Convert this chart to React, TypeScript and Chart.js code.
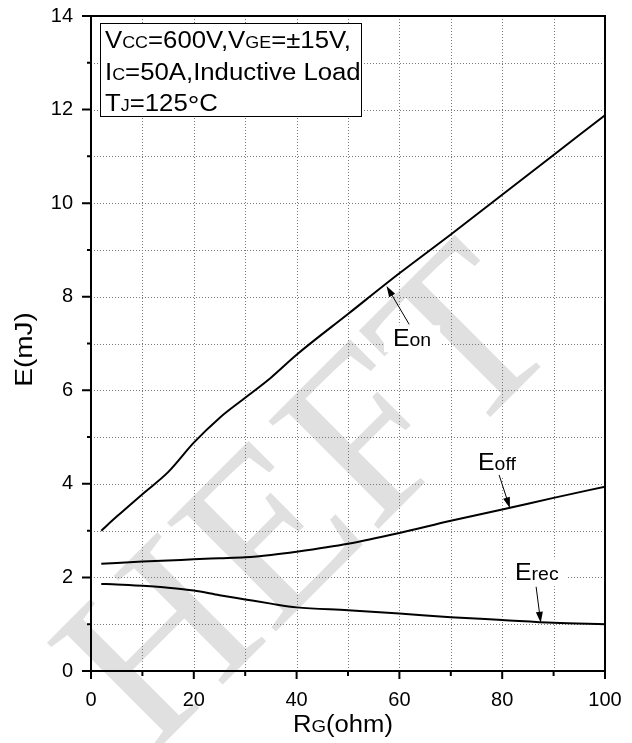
import React, { useEffect, useRef } from 'react';
import { Chart, registerables } from 'chart.js';

Chart.register(...registerables);

// Gate resistance RG (ohm)
const rg = [2, 5, 10, 15, 20, 25, 30, 35, 40, 50, 60, 70, 80, 90, 100];
// Switching energies (mJ)
const eon = [3.0, 3.3, 3.78, 4.25, 4.88, 5.41, 5.84, 6.27, 6.76, 7.63, 8.5, 9.33, 10.18, 11.03, 11.88];
const eoff = [2.29, 2.31, 2.34, 2.36, 2.39, 2.41, 2.43, 2.48, 2.55, 2.72, 2.95, 3.21, 3.45, 3.7, 3.94];
const erec = [1.86, 1.85, 1.82, 1.78, 1.72, 1.62, 1.53, 1.44, 1.36, 1.3, 1.23, 1.15, 1.09, 1.03, 1.0];

const xTickLabels = [0, 20, 40, 60, 80, 100];
const yTickLabels = [0, 2, 4, 6, 8, 10, 12, 14];

const SANS = '"Liberation Sans", Arial, Helvetica, sans-serif';
const SERIF = '"Liberation Serif", "DejaVu Serif", serif';

// [text, font size, baseline shift]
type Run = [string, number, number?];

const conditionLines: Run[][] = [
  [['V', 23], ['CC', 16], ['=600V,V', 23], ['GE', 16], ['=\u00b115V,', 23]],
  [['I', 23], ['C', 16], ['=50A,Inductive Load', 23]],
  [['T', 23], ['J', 16], ['=125', 23], ['\u00b0', 26, 3], ['C', 23]],
];

// Curve call-outs: label anchor, arrow tail and arrow tip in data units
const curveNotes: { runs: Run[]; at: [number, number]; tail: [number, number]; tip: [number, number] }[] = [
  { runs: [['E', 23], ['on', 18]], at: [58.75, 6.94], tail: [61.9, 7.41], tip: [57.5, 8.23] },
  { runs: [['E', 23], ['off', 18]], at: [75.3, 4.29], tail: [79.4, 4.19], tip: [81.5, 3.48] },
  { runs: [['E', 23], ['rec', 18]], at: [82.5, 1.94], tail: [86.6, 1.8], tip: [87.5, 1.03] },
];

function runsWidth(ctx: CanvasRenderingContext2D, runs: Run[]) {
  let w = 0;
  for (const [t, px] of runs) {
    ctx.font = `${px}px ${SANS}`;
    w += ctx.measureText(t).width;
  }
  return w;
}

function drawRuns(ctx: CanvasRenderingContext2D, runs: Run[], x: number, y: number, sx: number) {
  ctx.save();
  ctx.translate(x, y);
  ctx.scale(sx, 1);
  ctx.textAlign = 'left';
  ctx.textBaseline = 'alphabetic';
  ctx.fillStyle = '#000';
  let cx = 0;
  for (const [t, px, dy] of runs) {
    ctx.font = `${px}px ${SANS}`;
    ctx.fillText(t, cx, dy || 0);
    cx += ctx.measureText(t).width;
  }
  ctx.restore();
}

function arrow(ctx: CanvasRenderingContext2D, x0: number, y0: number, x1: number, y1: number) {
  const ang = Math.atan2(y1 - y0, x1 - x0);
  const len = 11;
  const hw = 3.5;
  ctx.save();
  ctx.strokeStyle = '#000';
  ctx.fillStyle = '#000';
  ctx.lineWidth = 1;
  ctx.beginPath();
  ctx.moveTo(x0, y0);
  ctx.lineTo(x1 - Math.cos(ang) * len * 0.8, y1 - Math.sin(ang) * len * 0.8);
  ctx.stroke();
  ctx.beginPath();
  ctx.moveTo(x1, y1);
  ctx.lineTo(x1 - Math.cos(ang) * len - Math.sin(ang) * hw, y1 - Math.sin(ang) * len + Math.cos(ang) * hw);
  ctx.lineTo(x1 - Math.cos(ang) * len + Math.sin(ang) * hw, y1 - Math.sin(ang) * len - Math.cos(ang) * hw);
  ctx.closePath();
  ctx.fill();
  ctx.restore();
}

const decor = {
  id: 'decor',
  beforeDraw(chart: any) {
    const { ctx, width, height } = chart;
    ctx.save();
    ctx.fillStyle = '#fff';
    ctx.fillRect(0, 0, width, height);
    // faint watermark
    ctx.translate(315, 505);
    ctx.rotate(-Math.PI / 4);
    ctx.font = `235px ${SERIF}`;
    ctx.fillStyle = '#e0e0e0';
    ctx.textAlign = 'center';
    ctx.textBaseline = 'middle';
    ctx.fillText('HEFT', 0, 0);
    ctx.restore();
  },
  beforeDatasetsDraw(chart: any) {
    const { ctx, chartArea: a, scales } = chart;
    const x = scales.x;
    const y = scales.y;
    ctx.save();
    ctx.strokeStyle = '#7a7a7a';
    ctx.lineWidth = 1;
    ctx.setLineDash([1, 2]);
    for (const t of x.ticks) {
      if (t.value <= x.min || t.value >= x.max) continue;
      const px = Math.round(x.getPixelForValue(t.value)) + 0.5;
      ctx.beginPath();
      ctx.moveTo(px, a.top);
      ctx.lineTo(px, a.bottom);
      ctx.stroke();
    }
    for (const t of y.ticks) {
      if (t.value <= y.min || t.value >= y.max) continue;
      const py = Math.round(y.getPixelForValue(t.value)) + 0.5;
      ctx.beginPath();
      ctx.moveTo(a.left, py);
      ctx.lineTo(a.right, py);
      ctx.stroke();
    }
    ctx.restore();
  },
  afterDatasetsDraw(chart: any) {
    const { ctx, chartArea: a, scales } = chart;
    const x = scales.x;
    const y = scales.y;
    ctx.save();
    // frame
    ctx.strokeStyle = '#000';
    ctx.lineWidth = 2;
    ctx.strokeRect(a.left, a.top, a.right - a.left, a.bottom - a.top);
    // outward tick marks
    ctx.beginPath();
    for (const t of x.ticks) {
      const px = x.getPixelForValue(t.value);
      const len = xTickLabels.includes(t.value) ? 8 : 5;
      ctx.moveTo(px, a.bottom);
      ctx.lineTo(px, a.bottom + len);
    }
    for (const t of y.ticks) {
      const py = y.getPixelForValue(t.value);
      const len = yTickLabels.includes(t.value) ? 9 : 4;
      ctx.moveTo(a.left, py);
      ctx.lineTo(a.left - len, py);
    }
    ctx.stroke();

    // test-condition box
    const bx = a.left + 9;
    const by = a.top + 7;
    const bw = 262;
    const bh = 94;
    ctx.fillStyle = '#fff';
    ctx.fillRect(bx, by, bw, bh);
    ctx.lineWidth = 1;
    ctx.strokeRect(bx + 0.5, by + 0.5, bw - 1, bh - 1);
    conditionLines.forEach((runs, i) => {
      drawRuns(ctx, runs, bx + 5, by + 25 + i * 31.5, 1.12);
    });

    // curve call-outs
    for (const n of curveNotes) {
      const lx = x.getPixelForValue(n.at[0]);
      const ly = y.getPixelForValue(n.at[1]);
      const w = runsWidth(ctx, n.runs) * 1.08;
      ctx.fillStyle = '#fff';
      ctx.fillRect(lx - 9, ly - 21, w + 18, 27);
      drawRuns(ctx, n.runs, lx, ly, 1.08);
      arrow(ctx, x.getPixelForValue(n.tail[0]), y.getPixelForValue(n.tail[1]), x.getPixelForValue(n.tip[0]), y.getPixelForValue(n.tip[1]));
    }

    // axis titles
    const xt: Run[] = [['R', 23.3], ['G', 17], ['(ohm)', 23.3]];
    const xw = runsWidth(ctx, xt) * 1.1;
    drawRuns(ctx, xt, (a.left + a.right) / 2 - 5 - xw / 2, a.bottom + 61, 1.1);

    const yt: Run[] = [['E(mJ)', 23.3]];
    const yw = runsWidth(ctx, yt) * 1.2;
    ctx.save();
    ctx.translate(31.5, (a.top + a.bottom) / 2 + 6 + yw / 2);
    ctx.rotate(-Math.PI / 2);
    drawRuns(ctx, yt, 0, 0, 1.2);
    ctx.restore();
    ctx.restore();
  },
};

export default function App() {
  const ref = useRef<HTMLCanvasElement | null>(null);
  useEffect(() => {
    if (!ref.current) return;
    const line = (vals: number[]) => ({
      data: rg.map((v, i) => ({ x: v, y: vals[i] })),
      borderColor: '#000',
      borderWidth: 2,
      pointRadius: 0,
      fill: false,
      cubicInterpolationMode: 'monotone' as const,
    });
    const tickFont = { family: SANS, size: 20 };
    const noEdgePadding = (s: any) => {
      s.paddingTop = 0;
      s.paddingBottom = 0;
      s.paddingLeft = 0;
      s.paddingRight = 0;
    };
    const chart = new Chart(ref.current, {
      type: 'line',
      data: { datasets: [line(eon), line(eoff), line(erec)] },
      options: {
        responsive: false,
        animation: false,
        devicePixelRatio: 1,
        layout: { padding: { top: 16, right: 27, left: 0, bottom: 0 } },
        plugins: { legend: { display: false }, tooltip: { enabled: false } },
        scales: {
          x: {
            type: 'linear',
            min: 0,
            max: 100,
            grid: { display: false, drawTicks: false },
            border: { display: false },
            ticks: {
              stepSize: 10,
              autoSkip: false,
              maxRotation: 0,
              padding: 17,
              color: '#000',
              font: tickFont,
              callback: (v: any) => (xTickLabels.includes(Number(v)) ? String(v) : ''),
            },
            afterFit: (s: any) => {
              s.height = 72;
              noEdgePadding(s);
            },
          },
          y: {
            type: 'linear',
            min: 0,
            max: 14,
            grid: { display: false, drawTicks: false },
            border: { display: false },
            ticks: {
              stepSize: 1,
              autoSkip: false,
              padding: 18,
              color: '#000',
              font: tickFont,
              callback: (v: any) => (yTickLabels.includes(Number(v)) ? String(v) : ''),
            },
            afterFit: (s: any) => {
              s.width = 91;
              noEdgePadding(s);
            },
          },
        },
      },
      plugins: [decor],
    });
    return () => chart.destroy();
  }, []);
  return <canvas ref={ref} width={632} height={743} style={{ position: 'absolute', left: 0, top: 0 }} />;
}
